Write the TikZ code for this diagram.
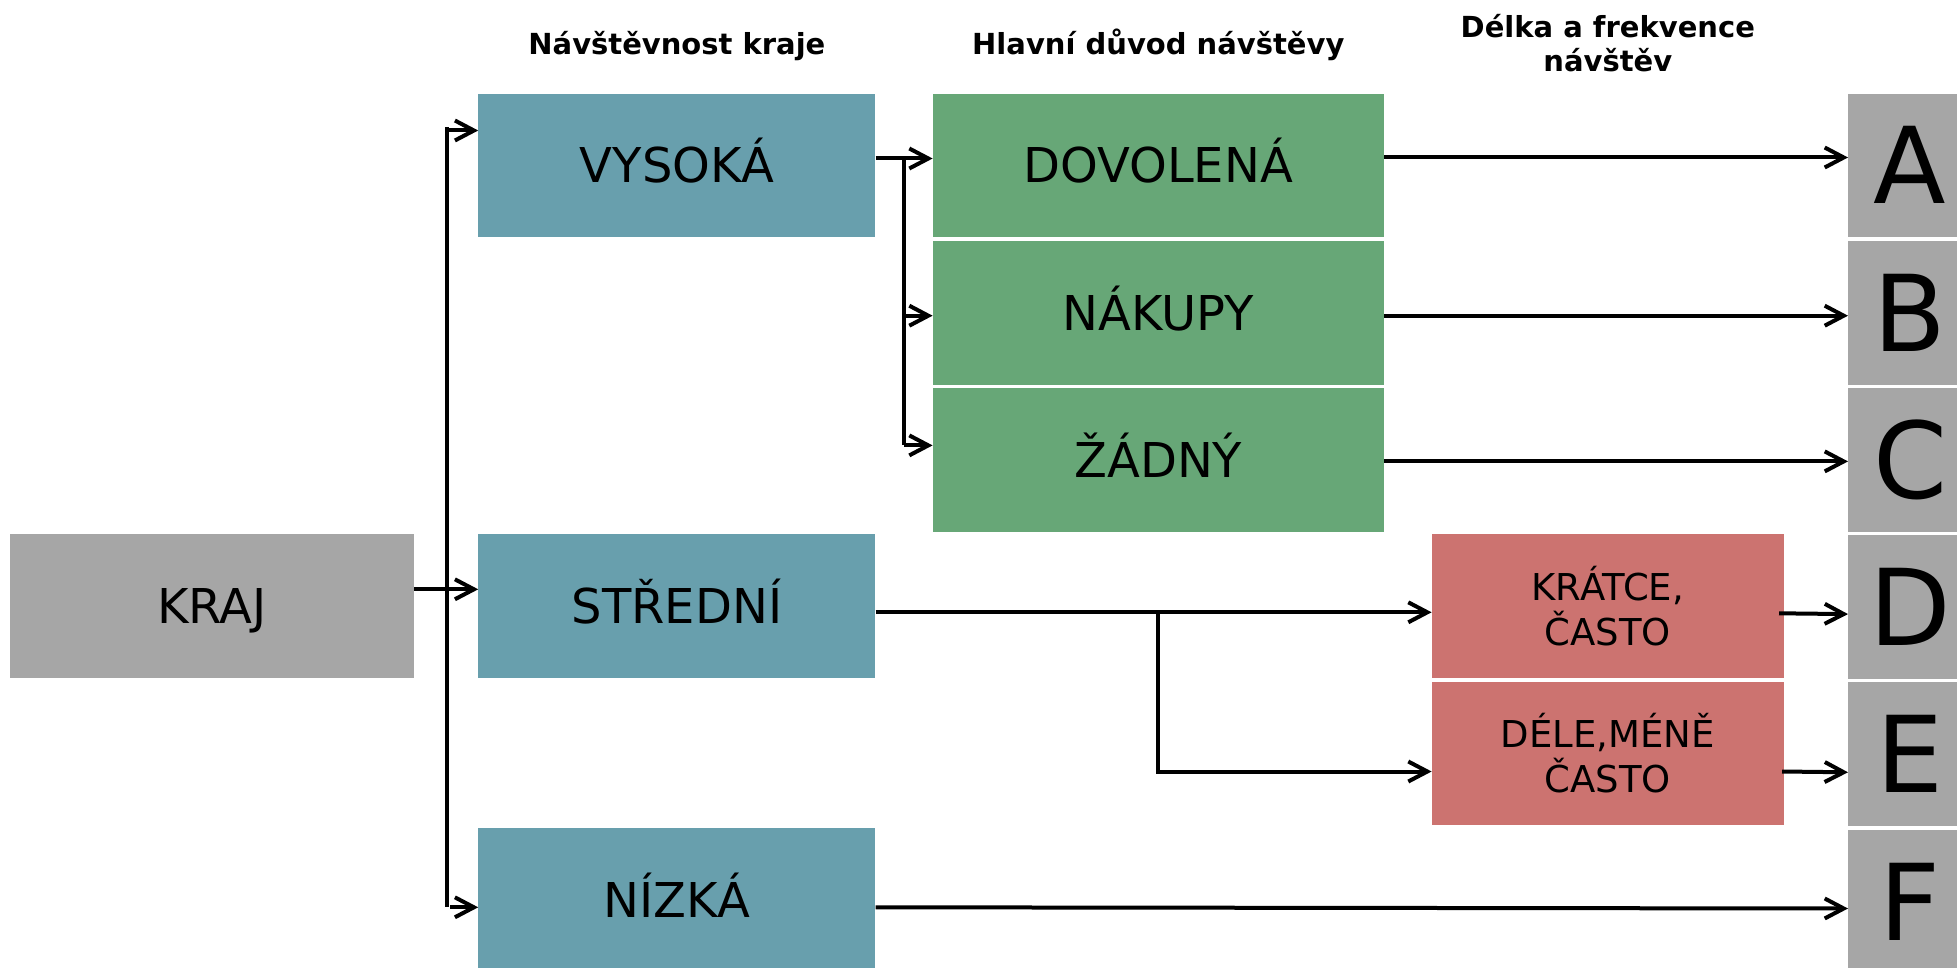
\documentclass[tikz,border=0pt]{standalone}
\usepackage{fontspec}
\setmainfont{DejaVu Sans}
\usetikzlibrary{arrows.meta,positioning}
\definecolor{levelblue}{HTML}{689FAD}
\definecolor{reasongreen}{HTML}{67A777}
\definecolor{freqred}{HTML}{CC7370}
\definecolor{classgray}{HTML}{A6A6A6}

\begin{document}
\begin{tikzpicture}[x=1pt, y=1pt, node distance=3pt and 57pt,
  box/.style={inner sep=0pt, minimum height=143.8pt, align=center, font=\fontsize{48}{56}\selectfont},
  capbox/.style={text height=35pt, text depth=0pt},
  kraj/.style={box, capbox, fill=classgray, minimum width=404pt},
  level/.style={box, capbox, fill=levelblue, minimum width=397pt},
  reason/.style={box, capbox, fill=reasongreen, minimum width=451pt},
  freq/.style={box, fill=freqred, minimum width=352pt, font=\fontsize{37}{45}\selectfont},
  class/.style={box, fill=classgray, minimum width=124pt, font=\fontsize{106}{110}\selectfont, text height=77pt, text depth=0pt},
  head/.style={inner sep=0pt, align=center, anchor=base, font=\fontsize{29}{34}\selectfont\bfseries},
  line/.style={line width=4pt, draw=black},
  arrow/.style={line, -{Straight Barb[length=19pt, width=20pt]}}]
\useasboundingbox (0,0) rectangle (1957,-968);
\node[kraj] (kraj) at (212,-606.3) {KRAJ};
\node[level, right=64pt of kraj] (stredni) {STŘEDNÍ};
\node[level, above=296.6pt of stredni] (vysoka) {VYSOKÁ};
\node[level, below=149.8pt of stredni] (nizka) {NÍZKÁ};
\node[reason, right=of vysoka] (dovolena) {DOVOLENÁ};
\node[reason, below=of dovolena] (nakupy) {NÁKUPY};
\node[reason, below=of nakupy] (zadny) {ŽÁDNÝ};
\node[freq, right=556pt of stredni] (kratce) {KRÁTCE,\\ČASTO};
\node[freq, below=of kratce] (dele) {DÉLE,MÉNĚ\\ČASTO};
\node[class, right=464pt of dovolena] (a) {A};
\node[class, below=of a] (b) {B};
\node[class, below=of b] (c) {C};
\node[class, below=of c] (d) {D};
\node[class, below=of d] (e) {E};
\node[class, below=of e] (f) {F};
\node[head] (hlevel) at ([yshift=39pt]vysoka.north) {Návštěvnost kraje};
\node[head] (hreason) at ([yshift=39pt]dovolena.north) {Hlavní důvod návštěvy};
\node[head] (hfreq) at ([yshift=22pt]dovolena.north -| kratce.north) {Délka a frekvence\\návštěv};
\coordinate (fork1) at ([xshift=-31pt, yshift=35pt]vysoka.west);
\coordinate (fork1end) at ([xshift=-31pt, yshift=-7pt]nizka.west);
\coordinate (fork2) at ([xshift=28pt, yshift=7pt]vysoka.east);
\coordinate (fork2end) at ([xshift=-29pt, yshift=14.5pt]zadny.west);
\coordinate (fork3) at ([xshift=282pt, yshift=-6pt]stredni.east);
\draw[line] ([yshift=3pt]fork1) -- (fork1end); \draw[arrow] (fork1) -- (fork1 -| vysoka.west);
\draw[arrow] ([xshift=3pt]fork1end) -- (fork1end -| nizka.west);
\draw[arrow] ([yshift=17pt]kraj.east) -- ([yshift=17pt]stredni.west);
\draw[arrow] ([yshift=7pt]vysoka.east) -- ([yshift=7pt]dovolena.west); \draw[line] (fork2) -- (fork2end);
\draw[arrow] ([yshift=-3pt]nakupy.west -| fork2) -- ([yshift=-3pt]nakupy.west);
\draw[arrow] (fork2end) -- (fork2end -| zadny.west);
\draw[arrow] ([yshift=8pt]dovolena.east) -- ([yshift=8pt]a.west);
\draw[arrow] ([yshift=-3pt]nakupy.east) -- ([yshift=-3pt]b.west);
\draw[arrow] ([yshift=-1.5pt]zadny.east) -- ([yshift=-1.5pt]c.west);
\draw[arrow] ([yshift=-6pt]stredni.east) -- ([yshift=-6pt]kratce.west);
\draw[arrow] (fork3) |- ([yshift=-18pt]dele.west);
\draw[arrow] ([xshift=-5pt, yshift=-7pt]kratce.east) -- ([yshift=-7pt]d.west);
\draw[arrow] ([xshift=-2pt, yshift=-18pt]dele.east) -- ([yshift=-18pt]e.west);
\draw[arrow] ([yshift=-7pt]nizka.east) -- ([yshift=-7pt]f.west);
\end{tikzpicture}
\end{document}
